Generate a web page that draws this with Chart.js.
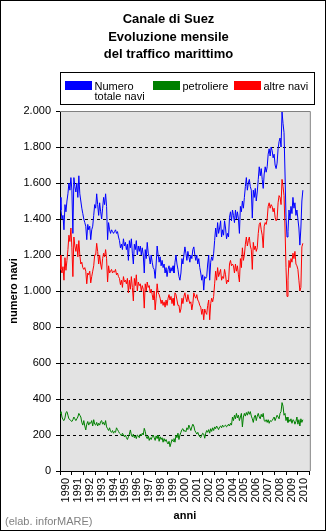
<!DOCTYPE html>
<html>
<head>
<meta charset="utf-8">
<script src="https://cdn.jsdelivr.net/npm/chart.js@4/dist/chart.umd.min.js"></script>
<style>
  html, body { margin: 0; padding: 0; background: #fff; }
  canvas { display: block; }
</style>
</head>
<body>
<canvas id="grafico" width="326" height="532"></canvas>
<script>
// dati mensili gen 1990 - giu 2010
const anni = ['1990','1991','1992','1993','1994','1995','1996','1997','1998','1999','2000',
              '2001','2002','2003','2004','2005','2006','2007','2008','2009','2010'];

const totaleNavi = [
  1520,1450,1400,1420,1340,1480,1440,1500,1540,1600,1560,1630, // 1990
  1560,1320,1630,1580,1550,1600,1520,1640,1540,1500,1460,1430,
  1400,1380,1360,1285,1370,1340,1360,1285,1340,1360,1420,1480,
  1460,1540,1480,1420,1490,1440,1400,1460,1520,1480,1540,1470,
  1285,1380,1340,1320,1340,1330,1320,1330,1340,1320,1330,1300,
  1280,1240,1260,1230,1290,1250,1270,1230,1260,1170,1280,1240, // 1995
  1290,1210,1150,1260,1230,1280,1200,1250,1220,1250,1200,1240,
  1200,1100,1230,1180,1270,1210,1190,1150,1200,1160,1130,1120,
  1070,1150,1250,1200,1160,1190,1140,1170,1130,1150,1100,1130,
  1080,1120,1140,1100,1130,1110,1140,1100,1160,1200,1150,1120,
  1080,1060,1100,1180,1150,1200,1245,1210,1170,1220,1190,1160, // 2000
  1200,1180,1230,1245,1200,1170,1200,1150,1180,1130,1100,1060,
  1090,1005,1080,1070,1080,1150,1200,1060,1160,1190,1170,1210,
  1280,1350,1300,1380,1320,1350,1390,1300,1340,1310,1390,1350,
  1290,1320,1300,1410,1440,1390,1450,1420,1380,1450,1400,1440,
  1400,1320,1470,1440,1500,1460,1520,1580,1630,1560,1600,1620, // 2005
  1580,1560,1405,1560,1520,1570,1500,1550,1620,1690,1640,1680,
  1620,1570,1650,1690,1660,1690,1760,1790,1750,1800,1780,1740,
  1760,1700,1680,1710,1790,1830,1850,1800,1995,1930,1880,1650,
  1410,1300,1330,1450,1400,1470,1430,1520,1460,1490,1420,1450,
  1400,1350,1255,1350,1500,1560                                // 2010
];

const petroliere = [
  320,330,300,285,280,295,325,330,310,290,285,280, // 1990
  275,285,300,290,280,290,300,320,310,300,270,255,
  280,250,228,260,275,255,270,265,280,250,285,260,
  255,270,250,265,255,275,280,260,270,255,280,245,
  235,225,240,220,215,225,210,220,215,240,230,220,
  210,205,195,210,200,190,200,185,175,190,205,228, // 1995
  200,190,205,185,195,180,200,195,185,205,195,210,
  200,237,220,190,180,195,170,185,175,190,200,185,
  170,195,180,200,165,190,175,185,160,180,165,175,
  160,150,165,135,155,175,165,180,160,200,185,210,
  175,200,215,230,235,220,225,218,240,230,255,240, // 2000
  225,245,260,250,225,215,205,215,200,190,185,200,
  210,205,182,210,225,215,230,210,235,220,240,225,
  245,235,250,240,230,245,250,240,255,245,250,255,
  245,250,260,250,265,255,300,280,310,290,320,295,
  310,280,300,320,245,300,320,305,325,310,330,315, // 2005
  330,305,290,270,300,310,280,305,320,300,290,315,
  300,320,280,275,285,270,285,265,280,275,280,290,
  300,280,295,310,300,290,320,330,380,360,310,320,
  280,300,270,285,275,290,265,285,280,260,275,300,
  260,285,250,290,270,285                          // 2010
];

const altreNavi = [
  1200,1120,1100,1135,1060,1185,1115,1170,1230,1310,1275,1350, // 1990
  1240,1080,1300,1250,1220,1260,1190,1280,1200,1150,1160,1130,
  1120,1130,1110,1040,1100,1090,1110,1045,1080,1110,1140,1200,
  1200,1265,1220,1150,1200,1150,1120,1180,1210,1190,1230,1180,
  1050,1140,1100,1110,1120,1100,1110,1105,1120,1090,1100,1080,
  1070,1035,1060,1020,1080,1050,1060,1040,1070, 990,1060,1010, // 1995
  1080,1020, 945,1070,1030,1090,1000,1050,1030,1040,1000,1030,
  1010, 905,1040,1000,1050,1020,1030, 990,1010, 980, 950,1000,
   895, 960,1040, 990, 980, 960, 930, 950, 920, 940, 910, 950,
   920, 960, 980, 950, 970, 930, 960, 920, 990, 980, 950, 920,
   920, 880, 900, 960, 930, 970, 990, 960, 940, 980, 950, 930, // 2000
   940, 895, 930, 990, 970, 960, 980, 950, 940, 920, 910, 870,
   900, 840, 900, 880, 870, 920, 950, 840, 930, 960, 940, 970,
  1040,1110,1060,1130,1080,1100,1120,1060,1080,1070,1120,1090,
  1040,1060,1050,1150,1170,1140,1150,1140,1100,1150,1110,1140,
  1090,1050,1180,1130,1240,1170,1200,1260,1300,1250,1280,1300, // 2005
  1250,1230,1120,1270,1230,1250,1220,1240,1320,1370,1380,1340,
  1310,1240,1360,1380,1370,1400,1470,1490,1460,1480,1470,1440,
  1460,1410,1390,1400,1490,1530,1520,1480,1620,1580,1530,1350,
  1130, 970,1060,1170,1130,1180,1160,1210,1180,1220,1150,1140,
  1120,1060,1000,1020,1245,1265                                // 2010
];

const titolo = ['Canale di Suez', 'Evoluzione mensile', 'del traffico marittimo'];
const vociLegenda = [['Numero', 'totale navi'], ['petroliere'], ['altre navi']];
const fonte = '(elab. inforMARE)';

const FONT = '"Liberation Sans", Arial, Helvetica, sans-serif';

// 1200 -> "1.200"
function migliaia(v) {
    return String(v).replace(/\B(?=(\d{3})+(?!\d))/g, '.');
}

// x = indice del mese
function punti(serie) {
    return serie.map((v, i) => ({ x: i, y: v }));
}

/* ---------- cornice, titolo, legenda, fonte ---------- */
const cornice = {
    id: 'cornice',
    beforeDraw(chart) {
        const { ctx, chartArea: a } = chart;
        ctx.save();
        ctx.fillStyle = '#e3e3e3';
        ctx.fillRect(a.left, a.top, a.right - a.left, a.bottom - a.top);
        ctx.restore();
    },
    afterDraw(chart) {
        const { ctx, chartArea: a } = chart;
        ctx.save();

        // bordo grigio sopra e a destra dell'area del grafico
        ctx.strokeStyle = '#808080';
        ctx.lineWidth = 1;
        ctx.beginPath();
        ctx.moveTo(a.left, a.top + 0.5);
        ctx.lineTo(a.right + 0.5, a.top + 0.5);
        ctx.lineTo(a.right + 0.5, a.bottom);
        ctx.stroke();

        // bordo esterno
        ctx.strokeStyle = '#000';
        ctx.strokeRect(0.5, 0.5, 325, 530);

        // titolo
        ctx.fillStyle = '#000';
        ctx.font = 'bold 13px ' + FONT;
        ctx.textAlign = 'center';
        ctx.textBaseline = 'alphabetic';
        titolo.forEach((t, i) => ctx.fillText(t, 168.5, 23.3 + i * 17.5));

        // legenda
        ctx.strokeRect(60.5, 72.5, 254, 32);
        const xs = [65, 153, 234];
        ctx.font = '11px ' + FONT;
        ctx.textAlign = 'left';
        chart.data.datasets.forEach((ds, k) => {
            ctx.fillStyle = ds.borderColor;
            ctx.fillRect(xs[k], 81, 27, 9);
            ctx.fillStyle = '#000';
            vociLegenda[k].forEach((riga, r) => ctx.fillText(riga, xs[k] + 29.5, 89.7 + r * 10.5));
        });

        // fonte
        ctx.fillStyle = '#808080';
        ctx.fillText(fonte, 5, 524.5);
        ctx.restore();
    }
};

const ctx = document.getElementById('grafico').getContext('2d');

new Chart(ctx, {
    type: 'line',
    data: {
        datasets: [
            { label: 'Numero totale navi', data: punti(totaleNavi), borderColor: '#0000ff' },
            { label: 'petroliere', data: punti(petroliere), borderColor: '#008000' },
            { label: 'altre navi', data: punti(altreNavi), borderColor: '#ff0000' }
        ]
    },
    options: {
        responsive: false,
        animation: false,
        layout: { padding: { left: 0, top: 111, right: 13, bottom: 0 } },
        elements: {
            point: { radius: 0 },
            line: { borderWidth: 1, tension: 0, fill: false }
        },
        plugins: {
            legend: { display: false },
            title: { display: false },
            tooltip: { enabled: false }
        },
        scales: {
            x: {
                type: 'linear',
                min: 0,
                max: 252,
                afterBuildTicks: (s) => {
                    const t = [];
                    for (let v = 0; v <= 252; v += 6) t.push({ value: v });
                    s.ticks = t;
                },
                afterFit: (s) => { s.height = 61; },
                grid: {
                    drawOnChartArea: false,
                    tickLength: 4,
                    tickColor: (c) => (c.tick && c.tick.value % 12 === 0) ? '#000' : 'rgba(0,0,0,0)'
                },
                border: { color: '#000', width: 1 },
                ticks: {
                    autoSkip: false,
                    minRotation: 90,
                    maxRotation: 90,
                    padding: 3,
                    color: '#000',
                    font: { family: FONT, size: 11 },
                    callback: (v) => v % 12 === 6 ? anni[(v - 6) / 12] : ''
                },
                title: {
                    display: true,
                    text: 'anni',
                    color: '#000',
                    font: { family: FONT, size: 11, weight: 'bold' },
                    padding: { top: 0, bottom: 9.4 }
                }
            },
            y: {
                min: 0,
                max: 2000,
                afterFit: (s) => { s.width = 60; },
                grid: {
                    color: (c) => (c.tick && (c.tick.value === 0 || c.tick.value === 2000)) ? 'rgba(0,0,0,0)' : '#000',
                    tickColor: '#000',
                    tickLength: 4,
                    tickBorderDash: []
                },
                border: { color: '#000', width: 1, dash: [3, 3] },
                ticks: {
                    stepSize: 200,
                    padding: 5,
                    color: '#000',
                    font: { family: FONT, size: 11 },
                    callback: (v) => migliaia(v)
                },
                title: {
                    display: true,
                    text: 'numero navi',
                    color: '#000',
                    font: { family: FONT, size: 11, weight: 'bold' },
                    padding: { top: 7, bottom: 0 }
                }
            }
        }
    },
    plugins: [cornice]
});
</script>
</body>
</html>
